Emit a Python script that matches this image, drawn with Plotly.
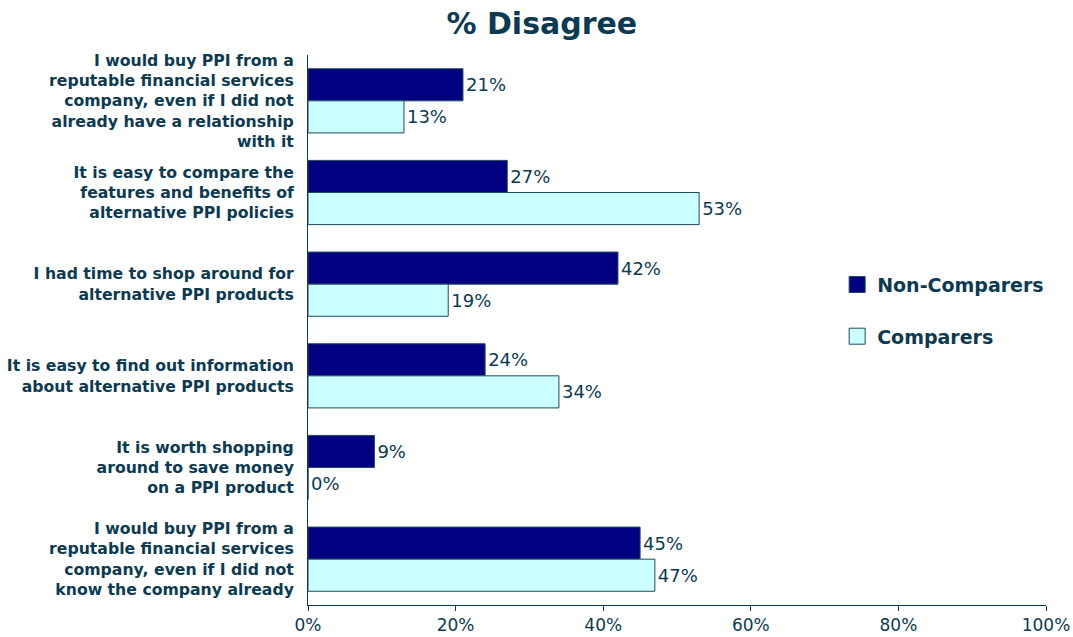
import plotly.graph_objects as go

categories = [
    "I would buy PPI from a<br>reputable financial services<br>company, even if I did not<br>already have a relationship<br>with it",
    "It is easy to compare the<br>features and benefits of<br>alternative PPI policies",
    "I had time to shop around for<br>alternative PPI products",
    "It is easy to find out information<br>about alternative PPI products",
    "It is worth shopping<br>around to save money<br>on a PPI product",
    "I would buy PPI from a<br>reputable financial services<br>company, even if I did not<br>know the company already",
]
non_comparers = [21, 27, 42, 24, 9, 45]
comparers = [13, 53, 19, 34, 0, 47]
x_ticks = [0, 20, 40, 60, 80, 100]

TEXT = "#0b3a52"
EDGE = "#1d4a5c"
FONT = "DejaVu Sans"

series = [
    ("Non-Comparers", non_comparers, "#000080", "a"),
    ("Comparers", comparers, "#ccffff", "b"),
]

fig = go.Figure()
for name, vals, fill, grp in series:
    fig.add_trace(go.Bar(
        y=categories, x=vals, name=name, orientation="h",
        marker=dict(color=fill, line=dict(color=EDGE, width=1)),
        text=[f"{v}%" for v in vals], textposition="outside",
        textfont=dict(family=FONT, size=18, color=TEXT),
        cliponaxis=False, legendgroup=grp, showlegend=False,
    ))
# legend entries with larger square swatches
for name, vals, fill, grp in series:
    fig.add_trace(go.Scatter(
        x=[None], y=[None], mode="markers", name=name, legendgroup=grp,
        marker=dict(symbol="square", size=20, color=fill, line=dict(color=EDGE, width=1)),
    ))

fig.update_layout(
    width=1073, height=637,
    margin=dict(l=308, r=27, t=55, b=32),
    paper_bgcolor="white", plot_bgcolor="white",
    barmode="group", bargap=0.3, bargroupgap=0,
    title=dict(text="<b>% Disagree</b>", x=0.505, xanchor="center", y=0.963, yanchor="middle",
               font=dict(family=FONT, size=30, color=TEXT)),
    font=dict(family=FONT, color=TEXT),
    legend=dict(x=0.717, y=0.617, xanchor="left", yanchor="top",
                font=dict(family=FONT, size=19, color=TEXT, weight="bold"),
                traceorder="grouped", tracegroupgap=24, bgcolor="rgba(0,0,0,0)"),
    showlegend=True,
)
fig.update_xaxes(
    range=[0, 100], tickvals=x_ticks, ticktext=[f"{t}%" for t in x_ticks],
    showgrid=False, zeroline=False, showline=True, linecolor=TEXT, linewidth=1,
    ticks="outside", ticklen=5, tickcolor=TEXT, automargin=False,
    ticklabelstandoff=0,
    tickfont=dict(family=FONT, size=17, color=TEXT),
)
fig.update_yaxes(
    autorange="reversed", showgrid=False, showline=True, linecolor=TEXT, linewidth=1,
    ticks="", ticklabelstandoff=10, automargin=False,
    tickfont=dict(family=FONT, size=15.7, color=TEXT, weight="bold"),
)

fig.write_html("out.html")
